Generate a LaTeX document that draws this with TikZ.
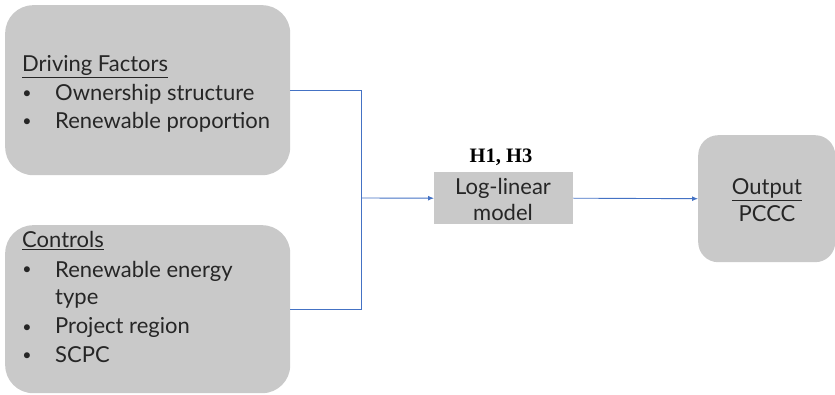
\documentclass[tikz,border=0pt]{standalone}
\usepackage{fontspec}
\setmainfont{Lato}
\newfontfamily\hfont{Liberation Serif}
\usetikzlibrary{arrows.meta}
\definecolor{boxgray}{HTML}{C9C9C9}
\definecolor{lineblue}{HTML}{4472C4}
\definecolor{txt}{HTML}{262626}
\begin{document}
\begin{tikzpicture}[x=1pt,y=-1pt,
  rbox/.style={fill=boxgray, draw=none, anchor=north west, inner sep=0pt},
  tx/.style={anchor=base west, inner sep=0pt, text=txt, font=\fontsize{22}{26}\selectfont},
  bul/.style={anchor=base, inner sep=0pt, text=txt, font=\fontsize{16}{20}\selectfont},
  conn/.style={draw=lineblue, line width=0.9pt},
  arr/.style={conn, -{Latex[length=6pt,width=5pt]}}]
\useasboundingbox (0,0) rectangle (835,395);
% boxes
\node[rbox, minimum width=285pt, minimum height=170pt, rounded corners=28pt] (drv) at (5,5) {};
\node[rbox, minimum width=285pt, minimum height=168pt, rounded corners=28pt] (ctl) at (5,225) {};
\node[rbox, minimum width=139pt, minimum height=52pt] (mdl) at (434,172) {};
\node[rbox, minimum width=137pt, minimum height=127pt, rounded corners=20pt] (out) at (698,135) {};
% driving factors text
\node[tx] (t1) at (22,72) {\underline{Driving Factors}};
\node[bul] (b1) at (27,99) {•};
\node[tx] (t2) at (55,101) {Ownership structure};
\node[bul] (b2) at (27,127) {•};
\node[tx] (t3) at (55,129) {Renewable proportion};
% controls text
\node[tx] (c1) at (22,248) {\underline{Controls}};
\node[bul] (cb1) at (27,275) {•};
\node[tx] (c2) at (55,277) {Renewable energy};
\node[tx] (c3) at (55,305) {type};
\node[bul] (cb2) at (27,332) {•};
\node[tx] (c4) at (55,334) {Project region};
\node[bul] (cb3) at (27,360) {•};
\node[tx] (c5) at (55,362) {SCPC};
% model text
\node[tx, anchor=base] (mt1) at (503,195) {Log-linear};
\node[tx, anchor=base] (mt2) at (503,221) {model};
\node[inner sep=0pt, anchor=base, font=\hfont\bfseries\fontsize{20.5}{24}\selectfont] (h) at (501,163) {H1, H3};
% output text
\node[tx, anchor=base] (ot1) at (767,195) {\underline{Output}};
\node[tx, anchor=base] (ot2) at (767,222) {PCCC};
% connectors
\coordinate (j) at (361,198);
\draw[conn] (drv.east |- 0,90) -| (j);
\draw[conn] (ctl.east |- 0,309) -| (j);
\draw[arr] (j) -- (mdl.west);
\draw[arr] (mdl.east) -- (out.west);
\end{tikzpicture}
\end{document}
